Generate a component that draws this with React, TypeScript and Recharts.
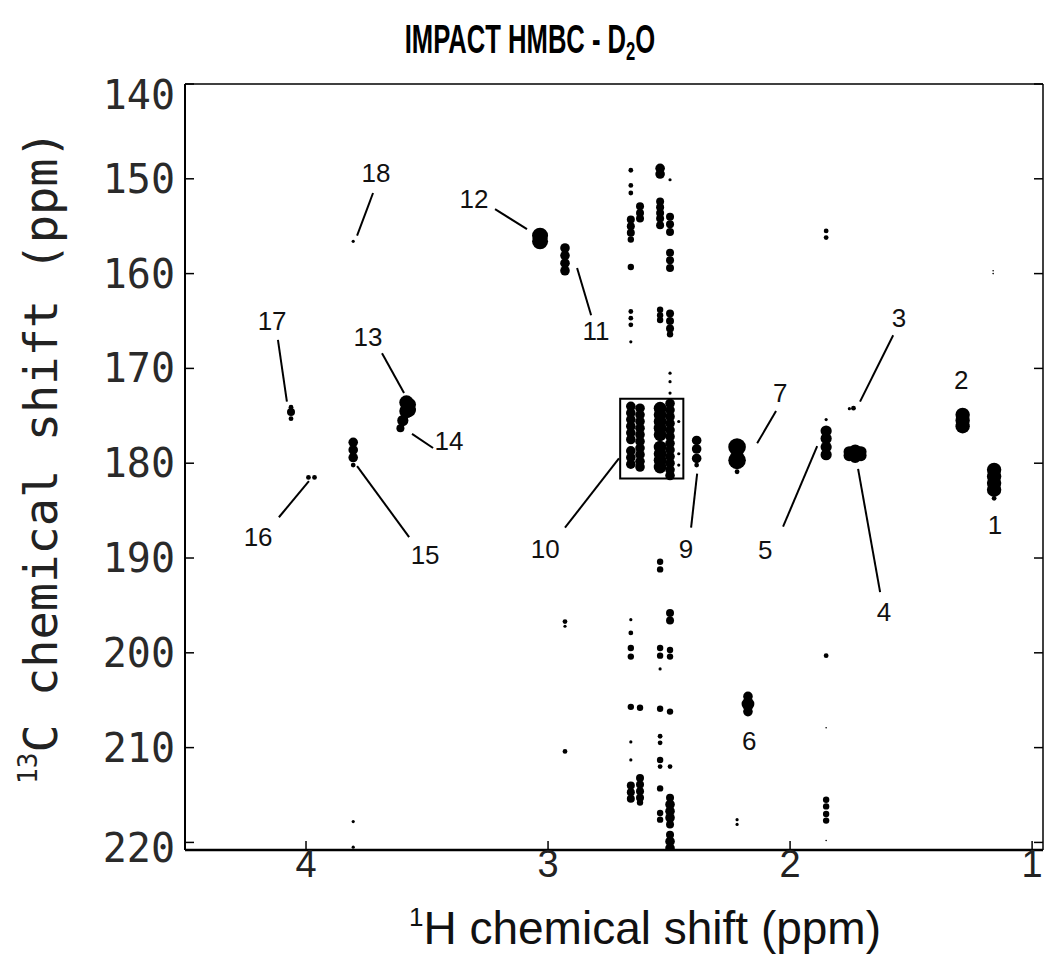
import { ScatterChart, Scatter, XAxis, YAxis, ReferenceLine, ReferenceArea } from "recharts"

const hTicks = [4, 3, 2, 1]
const cTicks = [140, 150, 160, 170, 180, 190, 200, 210, 220]
const hDomain: [number, number] = [0.955, 4.5]
const cDomain: [number, number] = [140, 220.8]

// cross peaks: [1H ppm, [[13C ppm, intensity], ...]]
const assignedPeaks: [number, [number, number][]][] = [
  [1.157, [[180.7, 9], [181.4, 9], [182.1, 9], [182.8, 9], [183.7, 3]]], // 1
  [1.287, [[174.9, 9], [175.5, 9], [176.1, 9]]], // 2
  [1.738, [[174.2, 3]]], // 3
  [1.755, [[174.25, 2]]],
  [1.731, [[178.7, 8], [179.3, 8]]], // 4
  [1.756, [[178.8, 7], [179.2, 7]]],
  [1.707, [[178.8, 7], [179.2, 7]]],
  [1.851, [[175.4, 2], [176.6, 7], [177.4, 7], [178.3, 7], [179.1, 7]]], // 5
  [2.174, [[204.6, 6], [205.4, 8], [206.2, 6]]], // 6
  [2.219, [[178.3, 11], [179.7, 11], [180.9, 3]]], // 7
  [2.386, [[177.6, 6], [178.5, 6], [179.5, 6], [180.2, 3]]], // 9
  [2.93, [[157.3, 6], [158.1, 6], [158.9, 6], [159.7, 6]]], // 11
  [3.033, [[156.0, 10], [156.6, 10]]], // 12
  [3.585, [[173.6, 9], [174.5, 9]]], // 13
  [3.572, [[173.8, 8], [174.4, 8]]],
  [3.6, [[175.5, 7]]], // 14
  [3.61, [[176.3, 5]]],
  [3.805, [[177.8, 6], [178.6, 6], [179.4, 6], [180.2, 3]]], // 15
  [3.99, [[181.5, 3]]], // 16
  [3.965, [[181.5, 3]]],
  [4.062, [[174.1, 3], [174.6, 5], [175.3, 3]]], // 17
  [3.805, [[156.6, 2]]], // 18
]

// vertical streaks around 2.5-2.7 ppm (peak 10 region and t1 noise)
const stripPeaks: [number, [number, number][]][] = [
  [2.658, [
    [149.1, 3], [150.7, 3], [151.5, 3], [154.3, 5], [155.0, 5], [155.7, 5], [156.4, 4], [159.3, 4],
    [164.0, 3], [164.7, 3], [165.4, 3], [167.2, 2],
    [174.0, 6], [174.7, 6], [175.4, 6], [176.1, 6], [176.8, 6], [177.5, 6], [178.7, 6], [179.4, 6], [180.1, 6],
    [196.5, 2], [197.9, 3], [199.5, 4], [200.4, 4], [205.7, 4], [209.4, 2], [211.3, 2], [214.0, 5], [214.7, 5], [215.4, 5],
  ]],
  [2.62, [
    [152.9, 5], [153.6, 5], [154.2, 5],
    [174.2, 6], [174.9, 6], [175.6, 6], [176.3, 6], [177.0, 6], [177.7, 6], [178.4, 6], [179.1, 6], [179.8, 6], [180.4, 6],
    [205.8, 4], [213.2, 5], [213.9, 5], [214.6, 5], [215.3, 5], [215.8, 4],
  ]],
  [2.537, [
    [148.9, 6], [149.5, 6], [152.4, 5], [153.0, 5], [153.6, 5], [154.2, 5], [154.9, 5], [163.8, 4], [164.4, 4], [164.9, 4],
    [174.2, 8], [174.9, 8], [175.6, 8], [176.3, 8], [177.0, 8], [178.3, 8], [179.0, 8], [179.7, 8], [180.4, 8],
    [190.4, 4], [191.2, 4], [199.5, 4], [200.3, 4], [201.7, 2], [205.9, 4], [208.8, 3], [209.5, 3], [211.3, 4], [212.0, 3],
    [214.3, 4], [216.9, 4], [217.6, 4],
  ]],
  [2.496, [
    [150.1, 2], [154.0, 5], [154.8, 5], [155.6, 5], [157.8, 5], [158.6, 5], [159.4, 5], [164.2, 5], [165.0, 5], [165.8, 5],
    [166.4, 4], [170.5, 2], [171.4, 2], [172.6, 2],
    [173.7, 6], [174.4, 6], [175.1, 6], [175.8, 6], [176.5, 6], [177.2, 6], [177.9, 6], [178.6, 6], [179.3, 6], [180.0, 6],
    [180.7, 6], [181.3, 6],
    [195.8, 5], [196.6, 5], [199.7, 4], [200.4, 4], [206.2, 4], [212.0, 3], [215.3, 5], [216.0, 6], [216.7, 6], [217.4, 6],
    [218.1, 5], [219.2, 5], [219.9, 6], [220.6, 6],
  ]],
  [2.46, [[175.6, 2], [179.0, 2], [180.2, 2]]],
]

// weaker artefacts elsewhere
const minorPeaks: [number, [number, number][]][] = [
  [1.851, [[155.5, 3], [156.2, 3], [200.3, 3], [207.9, 1], [215.5, 4], [216.2, 4], [217.0, 4], [217.7, 4], [219.8, 1]]],
  [2.93, [[196.7, 3], [197.2, 2], [210.4, 3]]],
  [3.805, [[217.8, 2], [220.5, 2]]],
  [2.219, [[217.6, 2], [218.1, 2]]],
  [1.161, [[159.7, 1], [160.0, 1]]],
]

const peakLabels = [
  { text: "1", h: 1.153, c: 186.5 },
  { text: "2", h: 1.293, c: 171.2 },
  { text: "3", h: 1.55, c: 164.7 },
  { text: "4", h: 1.612, c: 195.7 },
  { text: "5", h: 2.103, c: 189.2 },
  { text: "6", h: 2.169, c: 209.3 },
  { text: "7", h: 2.041, c: 172.6 },
  { text: "9", h: 2.43, c: 189.0 },
  { text: "10", h: 3.012, c: 189.0 },
  { text: "11", h: 2.802, c: 166.1 },
  { text: "12", h: 3.306, c: 152.1 },
  { text: "13", h: 3.744, c: 166.7 },
  { text: "14", h: 3.409, c: 177.7 },
  { text: "15", h: 3.508, c: 189.7 },
  { text: "16", h: 4.198, c: 187.8 },
  { text: "17", h: 4.14, c: 165.0 },
  { text: "18", h: 3.711, c: 149.4 },
]

// leader lines: [h1, c1, h2, c2]
const leaders: [number, number, number, number][] = [
  [3.723, 151.5, 3.789, 156.0],
  [3.219, 153.2, 3.087, 155.3],
  [2.88, 159.4, 2.822, 164.4],
  [4.116, 167.0, 4.079, 173.5],
  [3.686, 168.4, 3.595, 172.6],
  [3.562, 176.9, 3.475, 178.4],
  [4.112, 185.7, 3.988, 181.9],
  [3.789, 180.3, 3.574, 187.8],
  [2.93, 186.8, 2.707, 179.5],
  [2.384, 181.1, 2.409, 186.8],
  [2.058, 174.5, 2.136, 177.9],
  [2.029, 186.7, 1.888, 178.2],
  [1.719, 180.6, 1.628, 193.6],
  [1.574, 166.5, 1.711, 173.5],
]

const peak10Box = { h1: 2.702, h2: 2.441, c1: 173.2, c2: 181.6 }

const flatten = (groups: [number, [number, number][]][]) =>
  groups.flatMap(([h, pts]) => pts.map(([c, i]) => ({ h, c, i })))

const points = [...flatten(stripPeaks), ...flatten(assignedPeaks), ...flatten(minorPeaks)]

const monoFont = "'DejaVu Sans Mono', monospace"
const sansFont = "'Liberation Sans', Arial, sans-serif"

const Dot = (props: any) => {
  const { cx, cy, payload } = props
  if (cx == null || cy == null) return <g />
  return <circle cx={cx} cy={cy} r={payload.i * 0.8} fill="#000" />
}

const PeakText = (props: any) => {
  const { cx, cy, payload } = props
  return (
    <text x={cx} y={cy} textAnchor="middle" dominantBaseline="central" fontFamily={sansFont} fontSize={26} fill="#111">
      {payload.text}
    </text>
  )
}

// first and last labels sit a little inside the frame in the original
const labelShift: Record<number, number> = { 140: 11, 220: 6 }

const LeftTick = ({ x, y, payload }: any) => (
  <g>
    <line x1={x} y1={y} x2={x + 9} y2={y} stroke="#000" strokeWidth={1.5} />
    <text
      x={x - 10}
      y={y + (labelShift[payload.value] ?? 0)}
      textAnchor="end"
      dominantBaseline="central"
      fontFamily={monoFont}
      fontSize={40}
      fill="#2a2a2a"
    >
      {payload.value}
    </text>
  </g>
)

const RightTick = ({ x, y }: any) => <line x1={x} y1={y} x2={x - 9} y2={y} stroke="#000" strokeWidth={1.5} />

const BottomTick = ({ x, y, payload }: any) => (
  <g>
    <line x1={x} y1={y} x2={x} y2={y - 9} stroke="#000" strokeWidth={1.5} />
    <text x={x} y={y + 14} textAnchor="middle" dominantBaseline="central" fontFamily={sansFont} fontSize={38} fill="#222">
      {payload.value}
    </text>
  </g>
)

const TopTick = ({ x, y }: any) => <line x1={x} y1={y} x2={x} y2={y + 9} stroke="#000" strokeWidth={1.5} />

export default function App() {
  return (
    <div style={{ position: "absolute", left: 0, top: 0, width: 1051, height: 968, background: "#fff" }}>
      <ScatterChart width={1051} height={968} margin={{ top: 83, right: 7, bottom: 58, left: 85 }}>
        <XAxis
          xAxisId={0}
          type="number"
          dataKey="h"
          domain={hDomain}
          reversed
          ticks={hTicks}
          interval={0}
          allowDataOverflow
          height={60}
          tickSize={0}
          tickMargin={0}
          axisLine={{ stroke: "#000", strokeWidth: 2.5 }}
          tick={<BottomTick />}
        />
        <XAxis
          xAxisId="top"
          orientation="top"
          type="number"
          domain={hDomain}
          reversed
          ticks={hTicks}
          interval={0}
          allowDataOverflow
          height={1}
          tickSize={0}
          tickMargin={0}
          axisLine={{ stroke: "#000", strokeWidth: 1.5 }}
          tick={<TopTick />}
        />
        <YAxis
          yAxisId={0}
          type="number"
          dataKey="c"
          domain={cDomain}
          reversed
          ticks={cTicks}
          interval={0}
          allowDataOverflow
          width={100}
          tickSize={0}
          tickMargin={0}
          axisLine={{ stroke: "#000", strokeWidth: 2 }}
          tick={<LeftTick />}
        />
        <YAxis
          yAxisId="right"
          orientation="right"
          type="number"
          domain={cDomain}
          reversed
          ticks={cTicks}
          interval={0}
          allowDataOverflow
          width={1}
          tickSize={0}
          tickMargin={0}
          axisLine={{ stroke: "#000", strokeWidth: 1.5 }}
          tick={<RightTick />}
        />
        <ReferenceArea
          x1={peak10Box.h1}
          x2={peak10Box.h2}
          y1={peak10Box.c1}
          y2={peak10Box.c2}
          fill="none"
          stroke="#000"
          strokeWidth={2}
          ifOverflow="visible"
        />
        {leaders.map(([h1, c1, h2, c2], k) => (
          <ReferenceLine
            key={k}
            segment={[{ x: h1, y: c1 }, { x: h2, y: c2 }]}
            stroke="#000"
            strokeWidth={2}
            ifOverflow="visible"
          />
        ))}
        <Scatter data={points} shape={Dot} isAnimationActive={false} />
        <Scatter data={peakLabels} dataKey="c" shape={PeakText} isAnimationActive={false} />
      </ScatterChart>
      <svg width={1051} height={968} style={{ position: "absolute", left: 0, top: 0, pointerEvents: "none" }}>
        <text transform="translate(530,53) scale(0.64,1)" textAnchor="middle" fontFamily={sansFont} fontWeight="bold" fontSize={40} fill="#000">
          IMPACT HMBC - D<tspan fontSize={26} dy={7}>2</tspan><tspan dy={-7}>O</tspan>
        </text>
        <text transform="translate(40,457) rotate(-90)" textAnchor="middle" dominantBaseline="central" fontFamily={monoFont} fontSize={47} fill="#222">
          <tspan fontSize={26} dy={-12}>13</tspan>
          <tspan dy={12}>C chemical shift (ppm)</tspan>
        </text>
        <text x={645} y={944} textAnchor="middle" fontFamily={sansFont} fontSize={46} fill="#111">
          <tspan fontSize={26} dy={-18}>1</tspan>
          <tspan dy={18}>H chemical shift (ppm)</tspan>
        </text>
      </svg>
    </div>
  )
}
